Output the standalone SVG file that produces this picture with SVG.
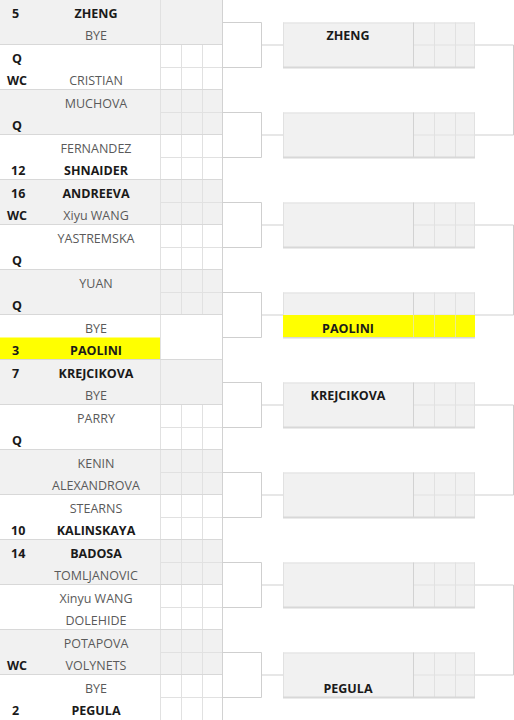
<svg xmlns="http://www.w3.org/2000/svg" xmlns:xlink="http://www.w3.org/1999/xlink" width="514" height="720" viewBox="0 0 514 720">
<style>
.g{fill:#f1f1f1}
.w{fill:#ffffff}
.y{fill:#ffff00}
.bd{stroke:#d8d8d8;stroke-width:2;fill:none}
.ln{stroke:#e1e1e1;stroke-width:1;fill:none}
.dk{stroke:#d2d2d2;stroke-width:1;fill:none}
.cn{stroke:#cfcfcf;stroke-width:1;fill:none}
text{font-family:"Open Sans","Liberation Sans",sans-serif;font-size:12.5px}
.b{font-weight:bold;fill:#1a1a1a}
.r{fill:#5a5a5a}
.m{text-anchor:middle}
</style>
<defs>
<g id="grid">
<path class="ln" d="M181.5 0V45M202.5 0V45M160 22.5H222"/>
</g>
<g id="r2">
<rect class="g" x="283" y="0" width="192" height="45"/>
<path class="ln" d="M283 0.5H475M283.5 0V45M434.5 0V45M455.5 0V45M474.5 0V45M413 22.5H475"/>
<path class="dk" d="M413.5 0V45"/>
<path class="bd" d="M283 45H475"/>
</g>
</defs>
<rect x="0" y="0" width="514" height="720" fill="#ffffff"/>

<g id="r1-0">
<rect class="g" x="0" y="0" width="222" height="45"/>
<path class="ln" d="M160.5 0V45"/>
<path class="bd" d="M0 45H222"/>
<text class="b" x="12" y="17.5">5</text>
<text class="b m" x="96" y="17.5">ZHENG</text>
<text class="r m" x="96" y="39.75">BYE</text>
</g>
<g id="r1-1">
<rect class="w" x="0" y="45" width="222" height="45"/>
<path class="ln" d="M160.5 45V90"/>
<use xlink:href="#grid" y="45"/>
<path class="bd" d="M0 90H222"/>
<text class="b" x="12" y="62.5">Q</text>
<text class="b" x="7" y="84.75">WC</text>
<text class="r m" x="96" y="84.75">CRISTIAN</text>
</g>
<g id="r1-2">
<rect class="g" x="0" y="90" width="222" height="45"/>
<path class="ln" d="M160.5 90V135"/>
<use xlink:href="#grid" y="90"/>
<path class="bd" d="M0 135H222"/>
<text class="r m" x="96" y="107.5">MUCHOVA</text>
<text class="b" x="12" y="129.75">Q</text>
</g>
<g id="r1-3">
<rect class="w" x="0" y="135" width="222" height="45"/>
<path class="ln" d="M160.5 135V180"/>
<use xlink:href="#grid" y="135"/>
<path class="bd" d="M0 180H222"/>
<text class="r m" x="96" y="152.5">FERNANDEZ</text>
<text class="b" x="11" y="174.75">12</text>
<text class="b m" x="96" y="174.75">SHNAIDER</text>
</g>
<g id="r1-4">
<rect class="g" x="0" y="180" width="222" height="45"/>
<path class="ln" d="M160.5 180V225"/>
<use xlink:href="#grid" y="180"/>
<path class="bd" d="M0 225H222"/>
<text class="b" x="11" y="197.5">16</text>
<text class="b m" x="96" y="197.5">ANDREEVA</text>
<text class="b" x="7" y="219.75">WC</text>
<text class="r m" x="96" y="219.75">Xiyu WANG</text>
</g>
<g id="r1-5">
<rect class="w" x="0" y="225" width="222" height="45"/>
<path class="ln" d="M160.5 225V270"/>
<use xlink:href="#grid" y="225"/>
<path class="bd" d="M0 270H222"/>
<text class="r m" x="96" y="242.5">YASTREMSKA</text>
<text class="b" x="12" y="264.75">Q</text>
</g>
<g id="r1-6">
<rect class="g" x="0" y="270" width="222" height="45"/>
<path class="ln" d="M160.5 270V315"/>
<use xlink:href="#grid" y="270"/>
<path class="bd" d="M0 315H222"/>
<text class="r m" x="96" y="287.5">YUAN</text>
<text class="b" x="12" y="309.75">Q</text>
</g>
<g id="r1-7">
<rect class="w" x="0" y="315" width="222" height="45"/>
<rect class="y" x="0" y="337.5" width="160" height="22.5"/>
<path class="ln" d="M160.5 315V360"/>
<path class="bd" d="M0 360H222"/>
<text class="r m" x="96" y="332.5">BYE</text>
<text class="b" x="12" y="354.75">3</text>
<text class="b m" x="96" y="354.75">PAOLINI</text>
</g>
<g id="r1-8">
<rect class="g" x="0" y="360" width="222" height="45"/>
<path class="ln" d="M160.5 360V405"/>
<path class="bd" d="M0 405H222"/>
<text class="b" x="12" y="377.5">7</text>
<text class="b m" x="96" y="377.5">KREJCIKOVA</text>
<text class="r m" x="96" y="399.75">BYE</text>
</g>
<g id="r1-9">
<rect class="w" x="0" y="405" width="222" height="45"/>
<path class="ln" d="M160.5 405V450"/>
<use xlink:href="#grid" y="405"/>
<path class="bd" d="M0 450H222"/>
<text class="r m" x="96" y="422.5">PARRY</text>
<text class="b" x="12" y="444.75">Q</text>
</g>
<g id="r1-10">
<rect class="g" x="0" y="450" width="222" height="45"/>
<path class="ln" d="M160.5 450V495"/>
<use xlink:href="#grid" y="450"/>
<path class="bd" d="M0 495H222"/>
<text class="r m" x="96" y="467.5">KENIN</text>
<text class="r m" x="96" y="489.75">ALEXANDROVA</text>
</g>
<g id="r1-11">
<rect class="w" x="0" y="495" width="222" height="45"/>
<path class="ln" d="M160.5 495V540"/>
<use xlink:href="#grid" y="495"/>
<path class="bd" d="M0 540H222"/>
<text class="r m" x="96" y="512.5">STEARNS</text>
<text class="b" x="11" y="534.75">10</text>
<text class="b m" x="96" y="534.75">KALINSKAYA</text>
</g>
<g id="r1-12">
<rect class="g" x="0" y="540" width="222" height="45"/>
<path class="ln" d="M160.5 540V585"/>
<use xlink:href="#grid" y="540"/>
<path class="bd" d="M0 585H222"/>
<text class="b" x="11" y="557.5">14</text>
<text class="b m" x="96" y="557.5">BADOSA</text>
<text class="r m" x="96" y="579.75">TOMLJANOVIC</text>
</g>
<g id="r1-13">
<rect class="w" x="0" y="585" width="222" height="45"/>
<path class="ln" d="M160.5 585V630"/>
<use xlink:href="#grid" y="585"/>
<path class="bd" d="M0 630H222"/>
<text class="r m" x="96" y="602.5">Xinyu WANG</text>
<text class="r m" x="96" y="624.75">DOLEHIDE</text>
</g>
<g id="r1-14">
<rect class="g" x="0" y="630" width="222" height="45"/>
<path class="ln" d="M160.5 630V675"/>
<use xlink:href="#grid" y="630"/>
<path class="bd" d="M0 675H222"/>
<text class="r m" x="96" y="647.5">POTAPOVA</text>
<text class="b" x="7" y="669.75">WC</text>
<text class="r m" x="96" y="669.75">VOLYNETS</text>
</g>
<g id="r1-15">
<rect class="w" x="0" y="675" width="222" height="45"/>
<path class="ln" d="M160.5 675V720"/>
<use xlink:href="#grid" y="675"/>
<text class="r m" x="96" y="692.5">BYE</text>
<text class="b" x="12" y="714.75">2</text>
<text class="b m" x="96" y="714.75">PEGULA</text>
</g>
<path class="dk" d="M222.5 0V720"/>

<g id="r2-0">
<use xlink:href="#r2" y="22.5"/>
<text class="b m" x="348" y="40">ZHENG</text>
</g>
<g id="r2-1"><use xlink:href="#r2" y="112.5"/></g>
<g id="r2-2"><use xlink:href="#r2" y="202.5"/></g>
<g id="r2-3">
<use xlink:href="#r2" y="292.5"/>
<rect class="y" x="283" y="315" width="192" height="22"/>
<path class="ln" d="M413.5 315V337M434.5 315V337M455.5 315V337" stroke-opacity="0.6"/>
<text class="b m" x="348" y="332.5">PAOLINI</text>
</g>
<g id="r2-4">
<use xlink:href="#r2" y="382.5"/>
<text class="b m" x="348" y="400">KREJCIKOVA</text>
</g>
<g id="r2-5"><use xlink:href="#r2" y="472.5"/></g>
<g id="r2-6"><use xlink:href="#r2" y="562.5"/></g>
<g id="r2-7">
<use xlink:href="#r2" y="652.5"/>
<text class="b m" x="348" y="692.5">PEGULA</text>
</g>

<g id="connectors" class="cn">
<path d="M223 22.5H261.5V67.5H223M261.5 45H283"/>
<path d="M223 112.5H261.5V157.5H223M261.5 135H283"/>
<path d="M223 202.5H261.5V247.5H223M261.5 225H283"/>
<path d="M223 292.5H261.5V337.5H223M261.5 315H283"/>
<path d="M223 382.5H261.5V427.5H223M261.5 405H283"/>
<path d="M223 472.5H261.5V517.5H223M261.5 495H283"/>
<path d="M223 562.5H261.5V607.5H223M261.5 585H283"/>
<path d="M223 652.5H261.5V697.5H223M261.5 675H283"/>
<path d="M475 45H513.5V135H475"/>
<path d="M475 225H513.5V315H475"/>
<path d="M475 405H513.5V495H475"/>
<path d="M475 585H513.5V675H475"/>
</g>
</svg>
